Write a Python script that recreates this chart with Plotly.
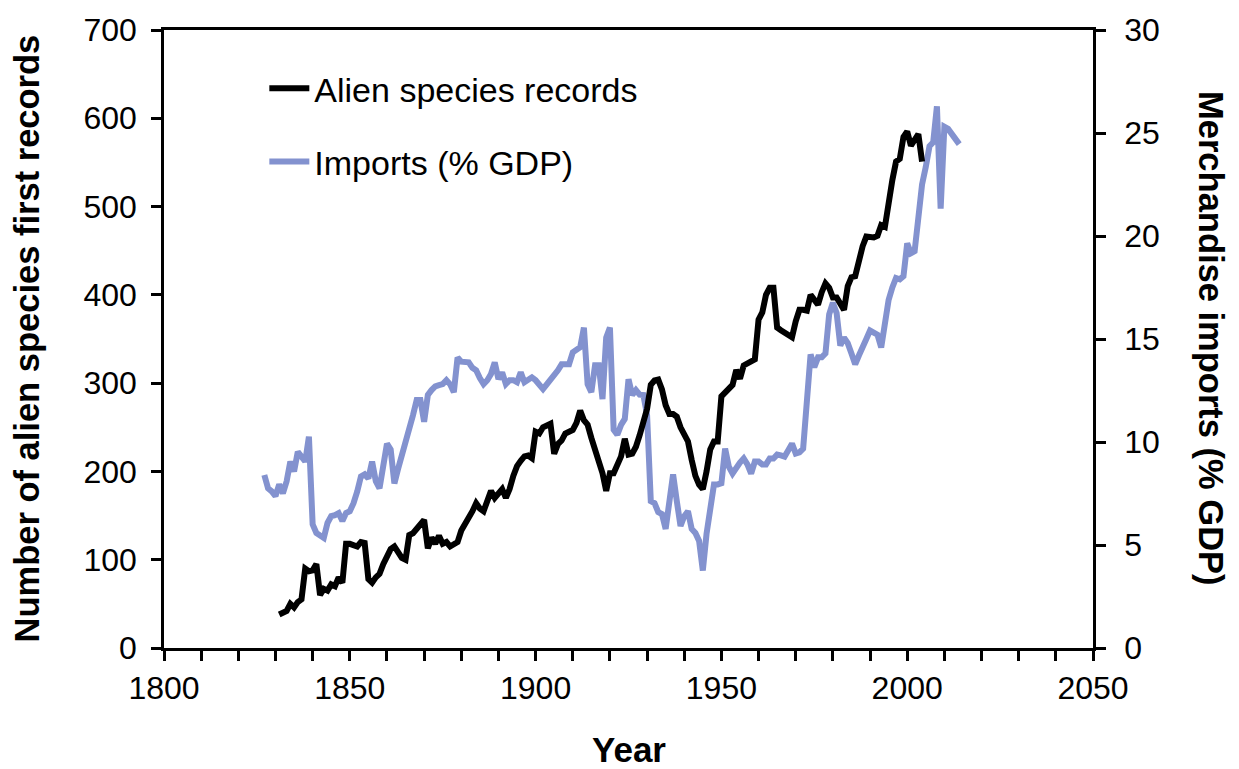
import plotly.graph_objects as go

# ---- data ----
alien_years = list(range(1831, 2005))
alien_records = [
    38, 40, 42, 50, 46, 52, 55, 90, 87, 88,          # 1831-1840
    95, 60, 67, 65, 72, 70, 80, 74, 118, 118,        # 1841-1850
    117, 115, 120, 119, 78, 74, 80, 84, 95, 105,     # 1851-1860
    112, 115, 108, 102, 100, 128, 130, 135, 138, 145,  # 1861-1870
    113, 125, 118, 127, 118, 120, 115, 118, 120, 133,  # 1871-1880
    140, 146, 155, 164, 158, 155, 165, 178, 170, 176,  # 1881-1890
    180, 170, 180, 195, 206, 212, 217, 218, 215, 245,  # 1891-1900
    243, 250, 252, 254, 220, 231, 235, 243, 245, 247,  # 1901-1910
    255, 269, 258, 253, 238, 225, 210, 198, 178, 198,  # 1911-1920
    198, 209, 217, 237, 219, 220, 228, 241, 255, 271,  # 1921-1930
    298, 303, 304, 293, 275, 265, 265, 262, 250, 240,  # 1931-1940
    234, 213, 195, 185, 180, 200, 225, 234, 234, 285,  # 1941-1950
    290, 293, 298, 315, 305, 320, 323, 326, 327, 372,  # 1951-1960
    380, 400, 408, 408, 363, 360, 357, 355, 352, 370,  # 1961-1970
    383, 383, 382, 400, 395, 389, 403, 413, 408, 397,  # 1971-1980
    397, 390, 383, 410, 420, 421, 442, 455, 466, 466,  # 1981-1990
    465, 467, 479, 477, 510, 530, 551, 554, 579, 585,  # 1991-2000
    569, 575, 582, 551,                                # 2001-2004
]

import_years = list(range(1827, 2015))
imports_gdp = [
    8.4, 7.75, 7.6, 7.37,                                   # 1827-1830
    7.94, 7.51, 8.09, 9.05, 8.57, 9.53, 9.29, 9.05, 10.26, 6.0,   # 1831-1840
    5.58, 5.45, 5.34, 6.07, 6.4, 6.45, 6.55, 6.16, 6.55, 6.64,    # 1841-1850
    7.03, 7.6, 8.33, 8.43, 8.23, 9.05, 8.09, 7.75, 8.8, 9.92,     # 1851-1860
    9.63, 7.99, 8.7, 9.29, 9.9, 10.5, 11.3, 12.04, 12.04, 10.98,  # 1861-1870
    12.28, 12.52, 12.7, 12.76, 12.81, 13.0, 12.8, 12.42, 14.1, 13.9,  # 1871-1880
    13.87, 13.87, 13.6, 13.48, 13.1, 12.81, 13.0, 13.3, 13.87, 13.05,  # 1881-1890
    13.38, 12.81, 13.0, 13.0, 12.9, 13.38, 12.9, 13.0, 13.14, 13.0,   # 1891-1900
    12.8, 12.57, 12.8, 13.0, 13.3, 13.48, 13.77, 13.77, 13.77, 14.35,  # 1901-1910
    14.44, 14.6, 15.55, 12.8, 12.42, 13.72, 13.72, 12.08, 15.07, 15.55,  # 1911-1920
    10.6, 10.35, 10.83, 11.12, 13.05, 12.28, 12.52, 12.3, 12.28, 11.31,  # 1921-1930
    7.13, 7.03, 6.6, 6.5, 5.78, 7.2, 8.43, 7.13, 5.92, 6.4,            # 1931-1940
    6.64, 5.78, 5.58, 5.2, 3.76, 5.54, 6.8, 7.94, 7.94, 8.0,           # 1941-1950
    9.68, 8.8, 8.47, 8.81, 9.0, 9.2, 8.91, 8.47, 9.05, 9.05,           # 1951-1960
    8.91, 8.91, 9.2, 9.2, 9.39, 9.35, 9.29, 9.6, 9.92, 9.44,           # 1961-1970
    9.5, 9.68, 12.5, 14.25, 13.63, 14.11, 14.11, 14.3, 16.2, 16.76,    # 1971-1980
    16.27, 14.68, 15.07, 14.8, 14.3, 13.77, 14.2, 14.68, 15.0, 15.41,  # 1981-1990
    15.3, 15.21, 14.59, 16.0, 16.9, 17.5, 17.96, 17.9, 18.05, 19.64,   # 1991-2000
    19.16, 19.26, 21.23, 22.5, 23.35, 24.36, 24.55, 26.29, 21.33, 25.3,  # 2001-2010
    25.2, 24.94, 24.7, 24.46,                                          # 2011-2014
]

left_ticks = [0, 100, 200, 300, 400, 500, 600, 700]
right_ticks = [0, 5, 10, 15, 20, 25, 30]
x_ticks = [1800, 1850, 1900, 1950, 2000, 2050]

BLUE = "#8392CF"
FONT = "Arial, Liberation Sans, sans-serif"

fig = go.Figure()
# black series on the left scale (yaxis2, overlay so it is drawn on top)
fig.add_trace(go.Scatter(
    x=alien_years, y=alien_records, mode="lines", name="Alien species records",
    line=dict(color="black", width=6), yaxis="y2", legendgroup="a",
))
fig.add_trace(go.Scatter(
    x=import_years, y=imports_gdp, mode="lines", name="Imports (% GDP)",
    line=dict(color=BLUE, width=6), yaxis="y", legendgroup="b",
))

axis_common = dict(
    showgrid=False, zeroline=False, showline=True, linecolor="black", linewidth=2.5,
    ticks="outside", ticklen=10, tickwidth=2.5, tickcolor="black",
    tickfont=dict(family=FONT, size=32, color="black"),
)

fig.update_layout(
    width=1239, height=769,
    margin=dict(l=164, r=146, t=25, b=121),
    paper_bgcolor="white", plot_bgcolor="white",
    showlegend=True,
    legend=dict(
        x=0.108, y=0.952, xanchor="left", yanchor="top",
        bgcolor="rgba(0,0,0,0)", font=dict(family=FONT, size=34, color="black"),
        traceorder="grouped", tracegroupgap=26, itemwidth=40,
    ),
    xaxis=dict(
        range=[1800, 2050], tickvals=x_ticks, mirror=True,
        minor=dict(dtick=10, tick0=1800, ticks="outside", ticklen=10, tickwidth=2.5, tickcolor="black"),
        ticklabelstandoff=0,
        **axis_common,
    ),
    yaxis=dict(
        range=[0, 30], tickvals=right_ticks, side="right",
        ticklabelstandoff=12,
        **axis_common,
    ),
    yaxis2=dict(
        range=[0, 700], tickvals=left_ticks, side="left", overlaying="y",
        ticklabelstandoff=8,
        **axis_common,
    ),
)

fig.add_annotation(
    text="<b>Number of alien species first records</b>", xref="paper", yref="paper",
    x=-0.148, y=0.5, xanchor="center", yanchor="middle", textangle=-90, showarrow=False,
    font=dict(family=FONT, size=34.5, color="black"),
)
fig.add_annotation(
    text="<b>Merchandise imports (% GDP)</b>", xref="paper", yref="paper",
    x=1.127, y=0.5, xanchor="center", yanchor="middle", textangle=90, showarrow=False,
    font=dict(family=FONT, size=34.5, color="black"),
)
fig.add_annotation(
    text="<b>Year</b>", xref="paper", yref="paper",
    x=0.5, y=-0.165, xanchor="center", yanchor="middle", showarrow=False,
    font=dict(family=FONT, size=35, color="black"),
)

fig.write_html("out.html", post_script="document.body.style.margin='0';",
               config={"displayModeBar": False})
